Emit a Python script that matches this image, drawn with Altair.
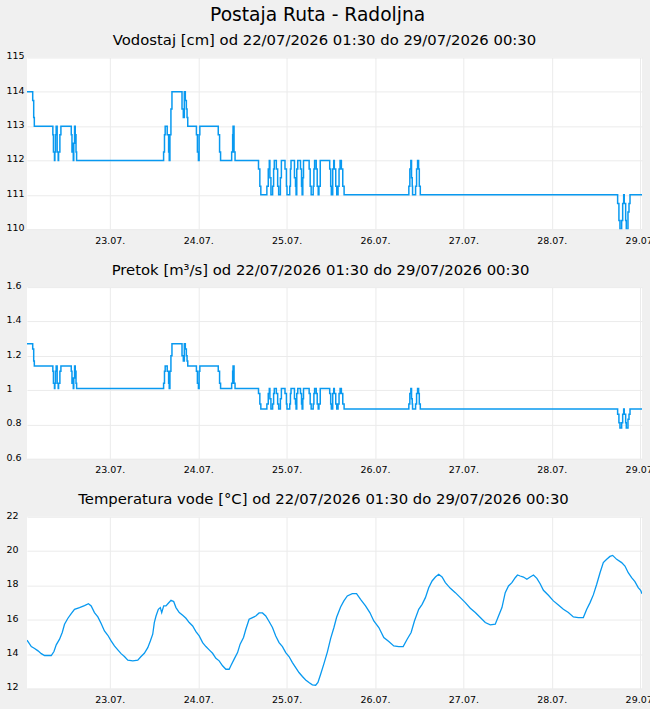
import altair as alt
import pandas as pd

START = pd.Timestamp("2026-07-22 00:00")

# Vodostaj [cm] — change points (hours since 22.07. 00:00) and levels
lvl_hours = [
    1.50, 3.06, 3.33, 3.50, 8.53, 8.69, 8.97, 9.08, 9.24, 9.43, 9.70, 9.98, 10.09, 10.44, 10.72,
    13.53, 13.72, 13.89, 14.08, 14.21, 14.43, 14.62, 14.82, 14.98,
    38.60, 38.84, 39.03, 39.58, 39.96, 40.13, 40.32, 40.59, 40.87,
    43.60, 43.95, 44.23, 44.50, 44.78, 44.97, 45.16,
    47.51, 47.78, 48.06, 48.25, 48.44,
    53.44, 53.80, 54.07,
    57.08, 57.35, 57.46, 57.73, 58.00,
    64.37, 64.73, 65.00, 66.64, 67.02, 67.30, 67.46, 67.74, 68.20, 68.47,
    68.66, 69.21, 69.57, 69.84, 70.31, 70.58, 71.56, 71.95, 72.11, 72.85,
    73.04, 73.20, 74.13, 74.41, 74.57, 74.76, 75.03, 75.77, 76.05, 76.21,
    76.40, 76.59, 78.12, 78.40, 78.67, 79.22, 79.41, 79.60, 80.04, 80.31,
    80.58, 80.78, 81.13,
    83.70, 83.97, 84.14, 84.52, 84.79, 84.96, 85.34, 85.61, 85.97, 86.24, 86.52, 86.87, 87.25, 87.61,
    105.19, 105.46, 105.73, 105.92, 106.11, 106.20, 107.02, 107.29, 107.56, 107.84, 108.03, 108.30,
    161.88, 162.23, 162.51, 162.97, 163.25, 163.52, 163.68, 164.06, 164.23, 164.69, 164.97, 165.24, 168.50,
]
lvl_cm = [
    114, 113.75, 113.25, 113, 112.75, 112.25, 112, 112.25, 112.75, 113, 112.25, 112, 112.25, 112.75, 113,
    112.75, 112.25, 112.5, 112, 112.5, 113, 112.75, 112.25, 112,
    112.25, 112.75, 113, 112.75, 112.25, 112, 112.75, 113.5, 114,
    113.5, 113.25, 114, 113.75, 113.5, 113.25, 113,
    112.75, 112.25, 112, 112.75, 113,
    112.75, 112.25, 112,
    112.25, 112.75, 113, 112.25, 112,
    111.75, 111.25, 111, 111.25, 111.75, 112, 111.5, 111, 111.25, 111.75,
    112, 111.75, 111.25, 111, 111.5, 112, 111.75, 111.25, 111, 111.25,
    111.75, 112, 111.5, 111.25, 111, 111.75, 112, 111.75, 111.25, 111,
    111.5, 112, 111.75, 111.25, 111, 111.25, 111.75, 112, 111.75, 111.25,
    111, 111.25, 112,
    111.75, 111.25, 111, 111.75, 112, 111.75, 111.25, 111, 111.25, 111.75, 112, 111.75, 111.25, 111,
    111.25, 111.75, 112, 111.5, 111.25, 111, 111.25, 111.75, 112, 111.75, 111.25, 111,
    110.75, 110.25, 110, 110.25, 110.75, 111, 110.75, 110.25, 110, 110.5, 110.75, 111, 111,
]
# Pretok [m3/s] — same change points
flow_m3s = [
    1.27, 1.24, 1.17, 1.14, 1.11, 1.04, 1.01, 1.04, 1.11, 1.14, 1.04, 1.01, 1.04, 1.11, 1.14,
    1.11, 1.04, 1.07, 1.01, 1.07, 1.14, 1.11, 1.04, 1.01,
    1.04, 1.11, 1.14, 1.11, 1.04, 1.01, 1.11, 1.20, 1.27,
    1.20, 1.17, 1.27, 1.24, 1.20, 1.17, 1.14,
    1.11, 1.04, 1.01, 1.11, 1.14,
    1.11, 1.04, 1.01,
    1.04, 1.11, 1.14, 1.04, 1.01,
    0.98, 0.92, 0.89, 0.92, 0.98, 1.01, 0.95, 0.89, 0.92, 0.98,
    1.01, 0.98, 0.92, 0.89, 0.95, 1.01, 0.98, 0.92, 0.89, 0.92,
    0.98, 1.01, 0.95, 0.92, 0.89, 0.98, 1.01, 0.98, 0.92, 0.89,
    0.95, 1.01, 0.98, 0.92, 0.89, 0.92, 0.98, 1.01, 0.98, 0.92,
    0.89, 0.92, 1.01,
    0.98, 0.92, 0.89, 0.98, 1.01, 0.98, 0.92, 0.89, 0.92, 0.98, 1.01, 0.98, 0.92, 0.89,
    0.92, 0.98, 1.01, 0.95, 0.92, 0.89, 0.92, 0.98, 1.01, 0.98, 0.92, 0.89,
    0.86, 0.81, 0.78, 0.81, 0.86, 0.89, 0.86, 0.81, 0.78, 0.83, 0.86, 0.89, 0.89,
]

# Temperatura vode [°C]
temp_hours = [
    1.50, 1.79, 2.68, 3.58, 4.50, 5.39, 6.28, 8.10, 8.83, 9.45, 10.35, 11.08, 11.70, 12.62,
    13.52, 14.41, 15.77, 17.12, 18.20, 18.94, 19.83, 20.75, 21.64, 22.54, 23.46, 24.35, 25.25,
    26.17, 27.06, 27.96, 28.88, 30.23, 31.59, 32.48, 33.37, 34.30, 35.00, 35.65, 36.08, 36.54,
    37.17, 37.71, 38.09, 38.63, 39.25, 39.88, 40.61, 41.34, 41.96, 42.86, 43.78, 44.67, 45.56,
    46.49, 47.38, 48.27, 49.20, 50.09, 50.98, 51.90, 52.80, 53.69, 54.61, 55.51, 56.40, 56.86,
    57.76, 58.68, 59.38, 60.30, 60.93, 61.82, 62.74, 63.63, 64.53, 65.45, 66.34, 67.24, 68.16,
    69.05, 69.95, 70.87, 71.76, 72.65, 73.58, 74.47, 75.36, 76.29, 77.18, 78.07, 78.99, 79.89,
    80.51, 81.24, 82.14, 83.06, 83.95, 84.85, 85.58, 86.66, 87.55, 88.48, 89.83, 90.99, 92.08,
    93.43, 94.60, 95.68, 97.04, 98.39, 99.75, 101.10, 102.45, 103.65, 104.73, 105.81, 106.71,
    107.87, 108.79, 109.69, 110.58, 111.50, 112.40, 113.29, 114.21, 115.10, 116.46, 117.81,
    119.17, 120.52, 121.88, 123.23, 124.59, 125.94, 127.30, 128.65, 129.54, 130.47, 131.36,
    132.25, 133.17, 134.07, 134.69, 135.42, 136.32, 137.24, 138.13, 139.03, 139.95, 140.84,
    141.73, 143.09, 144.44, 145.80, 147.15, 148.51, 149.86, 151.22, 152.57, 153.49, 154.39,
    155.28, 156.20, 157.10, 157.99, 158.91, 159.80, 160.53, 161.62, 162.97, 163.87, 164.76,
    165.68, 166.58, 167.47, 168.12, 168.50,
]
temp_c = [
    14.81, 14.73, 14.44, 14.33, 14.19, 14.03, 13.92, 13.92, 14.15, 14.54, 14.87, 15.26, 15.74, 16.09,
    16.36, 16.61, 16.71, 16.83, 16.94, 16.81, 16.42, 16.17, 15.78, 15.35, 15.10, 14.77, 14.48,
    14.25, 14.03, 13.86, 13.65, 13.61, 13.65, 13.86, 14.05, 14.38, 14.77, 15.16, 15.84, 16.22,
    16.61, 16.71, 16.42, 16.81, 16.81, 16.96, 17.14, 17.06, 16.71, 16.42, 16.26, 16.09, 15.84,
    15.64, 15.31, 15.06, 14.67, 14.44, 14.25, 14.05, 13.76, 13.61, 13.32, 13.12, 13.12, 13.32,
    13.71, 14.09, 14.58, 14.97, 15.45, 16.03, 16.13, 16.22, 16.40, 16.40, 16.22, 15.90, 15.55,
    15.06, 14.67, 14.44, 14.09, 13.86, 13.51, 13.22, 12.93, 12.70, 12.50, 12.35, 12.21, 12.19,
    12.35, 12.83, 13.45, 14.12, 14.90, 15.55, 16.15, 16.75, 17.10, 17.39, 17.52, 17.52, 17.19,
    16.81, 16.42, 15.93, 15.55, 14.97, 14.73, 14.48, 14.44, 14.44, 14.87, 15.26, 15.93,
    16.61, 16.90, 17.29, 17.87, 18.26, 18.49, 18.65, 18.49, 18.16, 17.83, 17.58,
    17.29, 17.00, 16.67, 16.42, 16.13, 15.84, 15.70, 15.74, 16.22, 16.71, 17.58,
    17.97, 18.16, 18.45, 18.61, 18.55, 18.49, 18.36, 18.49, 18.61, 18.41, 18.10,
    17.72, 17.43, 17.10, 16.86, 16.61, 16.42, 16.17, 16.13, 16.13, 16.61, 17.00,
    17.45, 18.07, 18.74, 19.33, 19.52, 19.69, 19.75, 19.52, 19.33, 19.13, 18.74,
    18.45, 18.22, 17.87, 17.72, 17.52,
]

TITLE = "Postaja Ruta - Radoljna"
SUB_LVL = "Vodostaj [cm] od 22/07/2026 01:30 do 29/07/2026 00:30"
SUB_FLOW = "Pretok [m³/s] od 22/07/2026 01:30 do 29/07/2026 00:30"
SUB_TEMP = "Temperatura vode [°C] od 22/07/2026 01:30 do 29/07/2026 00:30"

lvl_ticks = [110, 111, 112, 113, 114, 115]
flow_ticks = [0.6, 0.8, 1.0, 1.2, 1.4, 1.6]
temp_ticks = [12, 14, 16, 18, 20, 22]
day_ticks = [23, 24, 25, 26, 27, 28, 29]

BLUE = "#0899f0"
FONT = "DejaVu Sans"


def frame(hours, values):
    return pd.DataFrame({
        "t": [START + pd.Timedelta(hours=h) for h in hours],
        "v": values,
    })


x_dom = [alt.DateTime(year=2026, month=7, date=22, hours=1, minutes=30),
         alt.DateTime(year=2026, month=7, date=29, hours=0, minutes=30)]
x_vals = [alt.DateTime(year=2026, month=7, date=d) for d in day_ticks]


def panel(df, sub, sub_dx, ydom, yvals, yfmt, interp, sw):
    return alt.Chart(
        df,
        title=alt.TitleParams(sub, fontSize=14.85, font=FONT, fontWeight="normal",
                              color="#000000", anchor="middle", offset=3, dx=sub_dx),
    ).mark_line(interpolate=interp, color=BLUE, strokeWidth=sw, clip=True).encode(
        x=alt.X("t:T", scale=alt.Scale(domain=x_dom),
                axis=alt.Axis(values=x_vals, format="%d.%m.", title=None, grid=True,
                              gridColor="#ebebeb", domain=False, ticks=False,
                              labelFontSize=9.5, labelFont=FONT, labelColor="#000000",
                              labelPadding=6, labelFlush=False, labelOverlap=False)),
        y=alt.Y("v:Q", scale=alt.Scale(domain=ydom, nice=False, zero=False),
                axis=alt.Axis(values=yvals, format=yfmt, title=None, grid=True,
                              gridColor="#ebebeb", domain=False, ticks=False,
                              labelFontSize=9.5, labelFont=FONT, labelColor="#000000",
                              labelAlign="left", labelPadding=21, labelOffset=-1.5,
                              labelOverlap=False)),
    ).properties(width=616, height=172)


p1 = panel(frame(lvl_hours, lvl_cm), SUB_LVL, -10, [110, 115], lvl_ticks, "d",
           "step-after", 1.5)
p2 = panel(frame(lvl_hours, flow_m3s), SUB_FLOW, -14, [0.6, 1.6], flow_ticks, "~g",
           "step-after", 1.5)
p3 = panel(frame(temp_hours, temp_c), SUB_TEMP, -11, [12, 22], temp_ticks, "d",
           "linear", 1.3)

chart = alt.concat(p1, p2, p3, columns=1, align="none", spacing=17).properties(
    title=alt.TitleParams(TITLE, fontSize=18.7, font=FONT, fontWeight="normal",
                          color="#000000", anchor="middle", offset=8, dx=-13),
    padding={"left": 6, "top": 5, "right": -6, "bottom": 4},
).configure(background="#f0f0f0").configure_view(fill="#ffffff", stroke=None)

chart.save("out.html", embed_options={"renderer": "svg", "actions": False})
